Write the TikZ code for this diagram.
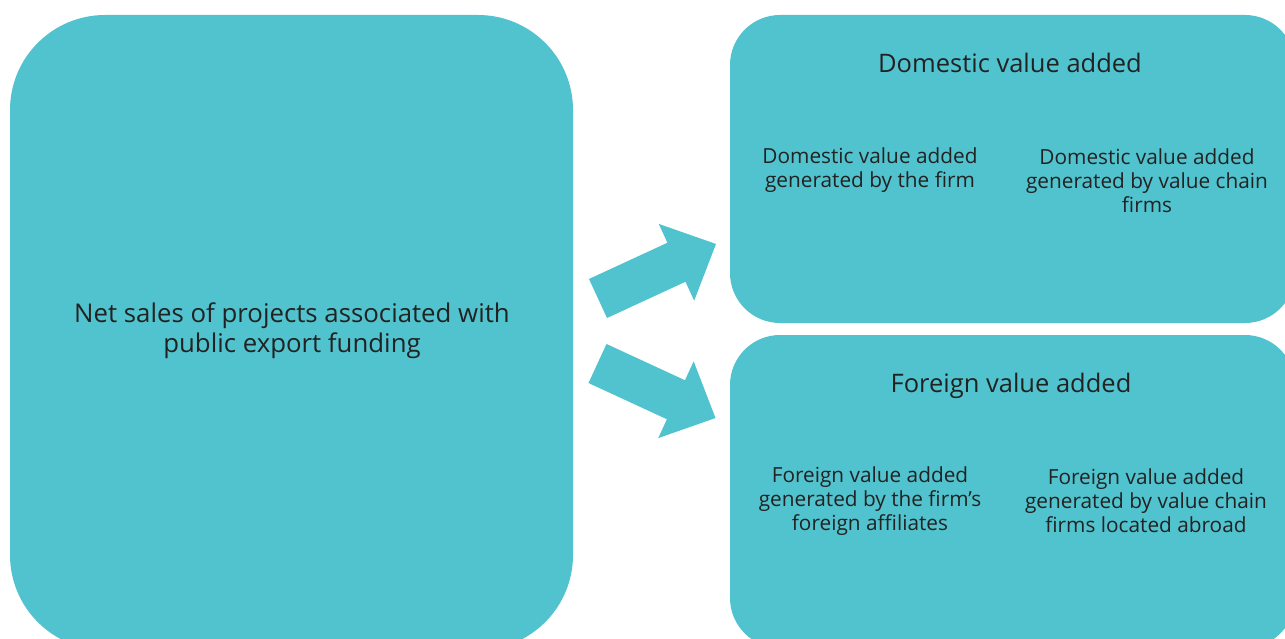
\documentclass[tikz,border=0pt]{standalone}
\usepackage{fontspec}
\setmainfont{Open Sans}
\usepackage{xcolor}
\usepackage{tikz}
\usetikzlibrary{positioning,calc}

\definecolor{panelteal}{HTML}{51C3CE}
\definecolor{panelink}{HTML}{222222}

\tikzset{
    panel/.style={fill=panelteal, draw=none, inner sep=0pt},
    maintext/.style={text=panelink, align=center, font=\fontsize{25.8}{30}\selectfont},
    titletext/.style={text=panelink, align=center, font=\fontsize{25.5}{30}\selectfont},
    subtext/.style={text=panelink, align=center, inner sep=0pt, font=\fontsize{20.8}{24}\selectfont},
    blockarrow/.style={fill=panelteal, draw=none}
}

\begin{document}
\begin{tikzpicture}[x=1pt, y=-1pt]
    \useasboundingbox (0,0) rectangle (1285,639);
    \clip (0,0) rectangle (1285,639);

    % Left panel (sales)
    \node[panel, minimum width=563pt, minimum height=635pt, rounded corners=95pt] (sales) at (291.5,332.5) {};
    \node[maintext] (salestext) at (292,331) {Net sales of projects associated with\\public export funding};

    % Right panels
    \node[panel, minimum width=565pt, minimum height=308pt, rounded corners=50pt] (domestic) at (1012.5,169) {};
    \node[panel, minimum width=565pt, minimum height=313pt, rounded corners=50pt] (foreign) at (1012.5,491.5) {};

    % Panel titles
    \node[titletext] (domtitle) at (1010,63) {Domestic value added};
    \node[titletext] (fortitle) at (1011,386) {Foreign value added};

    % Sub items
    \node[subtext] (domfirm) at (870,170) {Domestic value added\\generated by the firm};
    \node[subtext] (domchain) at (1147,181) {Domestic value added\\generated by value chain\\firms};
    \node[subtext] (forfirm) at (870,501) {Foreign value added\\generated by the firm’s\\foreign affiliates};
    \node[subtext] (forchain) at (1146,501) {Foreign value added\\generated by value chain\\firms located abroad};

    % Block arrows
    \coordinate (uptail) at (598,298.5);
    \coordinate (downtail) at (597.5,363.5);
    \foreach \tail/\ang in {uptail/24.8, downtail/-24.8} {
        \fill[blockarrow, shift={(\tail)}, rotate=\ang]
            (0,-21.5) -- (86.4,-21.5) -- (86.4,-42.3) -- (130,0)
            -- (86.4,42.3) -- (86.4,21.5) -- (0,21.5) -- cycle;
    }
\end{tikzpicture}
\end{document}
